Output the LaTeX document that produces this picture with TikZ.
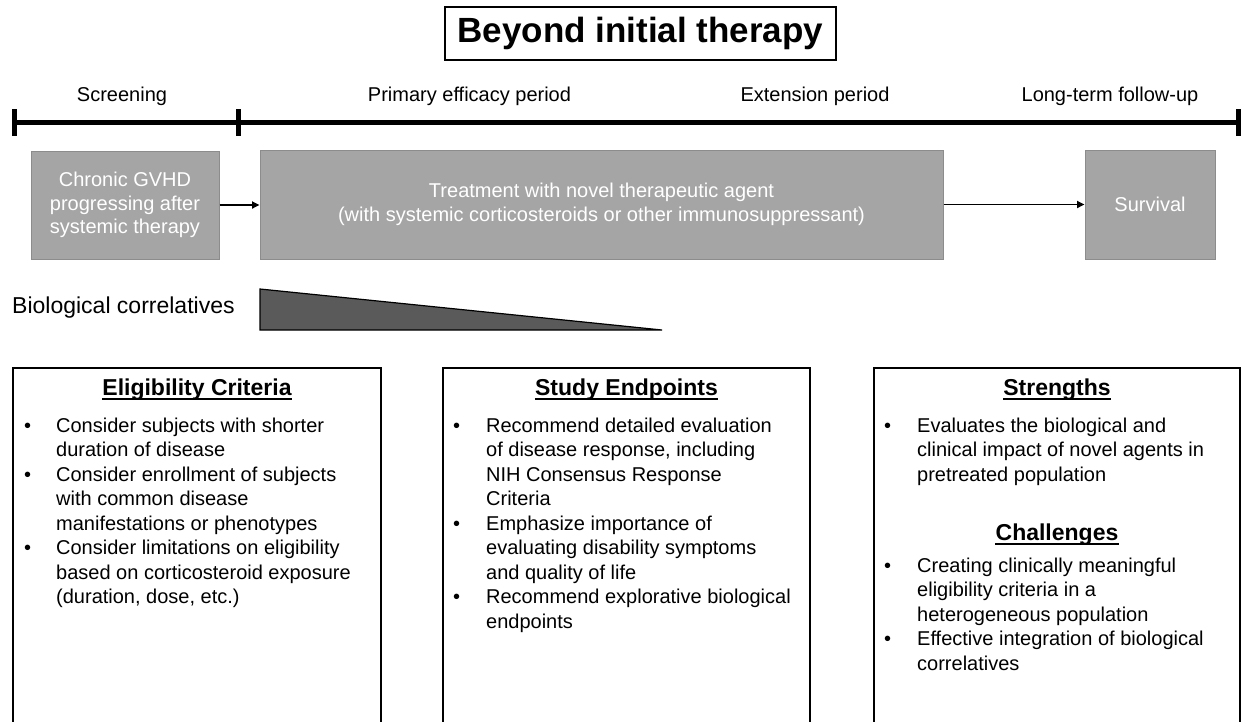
\documentclass[tikz,border=0pt]{standalone}
\usepackage{fontspec}
\setmainfont{Liberation Sans}
\usetikzlibrary{arrows.meta}
\definecolor{boxgray}{HTML}{A5A5A5}
\definecolor{boxedge}{HTML}{8C8C8C}
\definecolor{wedge}{HTML}{5A5A5A}
\newcommand{\fsz}[2]{\fontsize{#1}{#2}\selectfont}

\begin{document}
\begin{tikzpicture}[x=1pt,y=-1pt,
  lbl/.style={font=\fsz{20}{24}, inner sep=0pt, anchor=base},
  graybox/.style={draw=boxedge, line width=1pt, fill=boxgray, text=white,
    font=\fsz{20}{23.5}, align=center, inner sep=0pt},
  flow/.style={line width=1.7pt, -{Triangle[length=7.5pt,width=7pt]}},
  bar/.style={line width=5pt},
  panel/.style={line width=1.5pt},
  head/.style={font=\bfseries\fsz{23}{27}, inner sep=0pt, anchor=base},
  uline/.style={line width=1.3pt},
  items/.style={font=\fsz{20}{24.5}, inner sep=0pt, anchor=base west},
]
\useasboundingbox (0,0) rectangle (1243,721);

% title
\node[draw, line width=1.3pt, font=\bfseries\fsz{35}{40}, minimum width=391,
  minimum height=53, inner sep=0pt] (title) at (640.5,33.5) {Beyond initial therapy};

% timeline
\coordinate (t0) at (14.5,122.5);
\coordinate (t1) at (238.5,122.5);
\coordinate (t2) at (1238,122.5);
\draw[bar] (t0) -- (t2);
\foreach \t in {t0,t1,t2}
  \draw[bar] ([yshift=13.5pt]\t) -- ([yshift=-13.5pt]\t);

\node[lbl] (scr)  at (122,101)   {Screening};
\node[lbl] (prim) at (469.5,101) {Primary efficacy period};
\node[lbl] (ext)  at (815,101)   {Extension period};
\node[lbl] (ltf)  at (1110,101)  {Long-term follow-up};

% study flow
\node[graybox, minimum width=188, minimum height=108] (gvhd) at (125,205)
  {Chronic GVHD\\progressing after\\systemic therapy};
\node[graybox, minimum width=683, minimum height=109] (treat) at (601.5,204.5)
  {Treatment with novel therapeutic agent\\(with systemic corticosteroids or other immunosuppressant)};
\node[graybox, minimum width=130, minimum height=109] (surv) at (1150,204.5)
  {Survival};
\draw[flow] (gvhd.east) -- (gvhd.east -| treat.west);
\draw[flow] (treat.east) -- (treat.east -| surv.west);

% biological correlatives wedge
\node[font=\fsz{23}{27}, anchor=west, inner sep=0pt] (bio) at (12,308) {Biological correlatives};
\coordinate (w1) at (260,289);
\coordinate (w2) at (260,330);
\coordinate (w3) at (662,330);
\draw[fill=wedge, line width=1.2pt, line join=miter] (w1) -- (w2) -- (w3) -- cycle;

% panels
\draw[panel] (13,725) |- (381,368) -- (381,725);
\draw[panel] (443,725) |- (810,368) -- (810,725);
\draw[panel] (874,725) |- (1240,368) -- (1240,725);

\node[head] (h1) at (197,395) {Eligibility Criteria};
\node[head] (h2) at (626.5,395) {Study Endpoints};
\node[head] (h3) at (1057,395) {Strengths};
\node[head] (h4) at (1057,540) {Challenges};
\foreach \h in {h1,h2,h3,h4}
  \draw[uline] ([yshift=-4pt]\h.base west) -- ([yshift=-4pt]\h.base east);

\node[items] (elig) at (24,432) {\begin{tabular}[t]{@{}p{32pt}@{}l@{}}
• & Consider subjects with shorter\\
  & duration of disease\\
• & Consider enrollment of subjects\\
  & with common disease\\
  & manifestations or phenotypes\\
• & Consider limitations on eligibility\\
  & based on corticosteroid exposure\\
  & (duration, dose, etc.)
\end{tabular}};

\node[items] (endp) at (453,432) {\begin{tabular}[t]{@{}p{33pt}@{}l@{}}
• & Recommend detailed evaluation\\
  & of disease response, including\\
  & NIH Consensus Response\\
  & Criteria\\
• & Emphasize importance of\\
  & evaluating disability symptoms\\
  & and quality of life\\
• & Recommend explorative biological\\
  & endpoints
\end{tabular}};

\node[items] (str) at (884,432) {\begin{tabular}[t]{@{}p{33pt}@{}l@{}}
• & Evaluates the biological and\\
  & clinical impact of novel agents in\\
  & pretreated population
\end{tabular}};

\node[items] (chal) at (884,572) {\begin{tabular}[t]{@{}p{33pt}@{}l@{}}
• & Creating clinically meaningful\\
  & eligibility criteria in a\\
  & heterogeneous population\\
• & Effective integration of biological\\
  & correlatives
\end{tabular}};
\end{tikzpicture}
\end{document}
